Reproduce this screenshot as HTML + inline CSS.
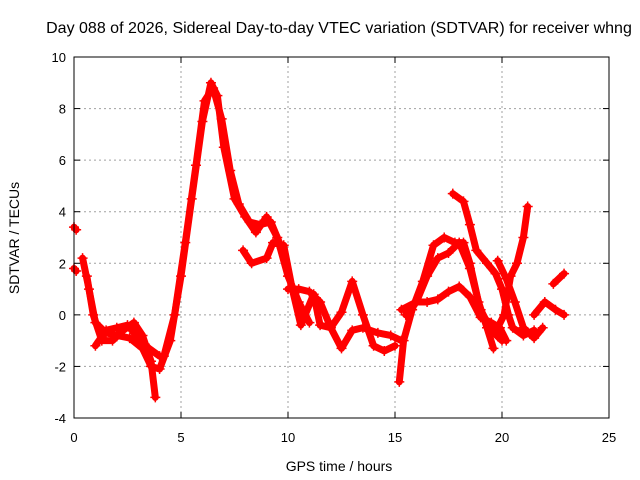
<!DOCTYPE html>
<html><head><meta charset="utf-8"><style>
body{margin:0;background:#fff;}
svg{display:block;font-family:"Liberation Sans",sans-serif;}
</style></head><body>
<svg id="chart" width="640" height="480">
<text x="339" y="33" font-size="16" text-anchor="middle">Day 088 of 2026, Sidereal Day-to-day VTEC variation (SDTVAR) for receiver whng</text>
<text x="339" y="471" font-size="14" text-anchor="middle">GPS time / hours</text>
<text transform="translate(19,238) rotate(-90)" font-size="14" text-anchor="middle">SDTVAR / TECUs</text>
<g id="grid"></g><g id="series"></g><g id="axes"></g>
</svg>
<script>
const xTicks=[0,5,10,15,20,25];
const yTicks=[-4,-2,0,2,4,6,8,10];
const trackA=[[0.4,2.2],[0.7,1],[1,-0.3],[1.5,-0.7],[2,-0.8],[2.6,-0.9],[3.2,-1.3],[3.6,-2],[4,-2.1],[4.5,-1],[5,1.5],[5.5,4.5],[6,7.5],[6.4,9],[6.7,8.5],[7,6.5],[7.5,4.5],[8,3.8],[8.5,3.2],[9,3.8],[9.5,3],[10,1.5],[10.5,0.5],[11,-0.3]];
const trackA2=[[4.2,-1.6],[4.7,0],[5.2,2.8],[5.7,5.8],[6.1,8.3],[6.5,8.8],[6.9,7.6],[7.3,5.6],[7.7,4.3],[8.2,3.6],[8.7,3.5],[9.2,3.6],[9.7,2.6],[10.2,1.0]];
const trackB=[[0.6,1.5],[0.9,0],[1.3,-1],[1.8,-1],[2.3,-0.6],[2.8,-0.3],[3.2,-0.8],[3.6,-1.8],[3.8,-3.2]];
const trackC=[[1,-1.2],[1.5,-0.6],[2,-0.5],[2.5,-0.4],[3,-0.9],[3.5,-1.3],[4,-1.6]];
const trackD=[[7.9,2.5],[8.3,2.0],[9,2.2],[9.3,2.8],[9.8,2.7],[10.2,1],[10.6,-0.4],[11.2,0.8],[11.5,-0.4],[12,-0.5],[12.5,0.1],[13,1.3],[13.5,0],[14,-1.2],[14.5,-1.4],[15,-1.2]];
const trackE=[[10,1],[10.5,1],[11,0.9],[11.5,0.5],[12,-0.5],[12.5,-1.3],[13,-0.6],[13.5,-0.5],[14.2,-0.7],[14.8,-0.8],[15.3,-1]];
const trackF=[[15.2,-2.6],[15.4,-1],[15.8,0.2],[16.3,1.3],[16.8,2.7],[17.3,3],[17.8,2.8],[18.2,2.8],[18.5,2],[18.9,0.5],[19.3,-0.5],[19.6,-1.3]];
const trackG=[[15.3,0.2],[16,0.5],[16.5,0.5],[17,0.6],[17.5,0.9],[18,1.1],[18.5,0.7],[19,-0.1],[19.5,-0.3],[19.9,-0.5],[20.2,-1]];
const trackH=[[15.5,0],[16,0.5],[16.5,1.5],[17,2.2],[17.5,2.4],[18,2.8],[18.5,1.8],[19,0.2],[19.5,-0.6],[20,-1]];
const trackI=[[17.7,4.7],[18.2,4.4],[18.5,3.5],[18.8,2.5],[19.3,2.0],[19.7,1.6],[20,1],[20.3,0],[20.5,-0.5],[21,-0.8],[21.5,-0.6]];
const trackJ=[[19.8,2.1],[20.2,1.4],[20.6,0.5],[21,-0.5],[21.5,-0.9],[21.9,-0.5]];
const trackK=[[19.8,-0.5],[20.1,0],[20.4,1.5],[20.7,2],[21,3],[21.2,4.2]];
const trackL=[[21.5,0],[22,0.5],[22.5,0.2],[22.9,0]];
const trackM=[[22.4,1.2],[22.9,1.6]];
const trackN=[[0,3.4],[0.1,3.3]];
const trackO=[[0,1.8],[0.1,1.7]];
const tracks=[trackA,trackA2,trackB,trackC,trackD,trackE,trackF,trackG,trackH,trackI,trackJ,trackK,trackL,trackM,trackN,trackO];
const X0=74,X1=609,Y0=418,Y1=57;
const xs=v=>X0+(v-0)/25*(X1-X0);
const ys=v=>Y0-(v+4)/14*(Y0-Y1);
const NS="http://www.w3.org/2000/svg";
function mk(t,a,p){const e=document.createElementNS(NS,t);for(const k in a)e.setAttribute(k,a[k]);p.appendChild(e);return e;}
const grid=document.getElementById('grid'),axes=document.getElementById('axes'),ser=document.getElementById('series');
xTicks.forEach(t=>{
 if(t>0&&t<25){const g=mk('line',{x1:xs(t),x2:xs(t),y1:Y0,y2:Y1,stroke:'#a0a0a0','stroke-dasharray':'2,3'},grid);
 
 }
 mk('line',{x1:xs(t),x2:xs(t),y1:Y0,y2:Y0-6,stroke:'#000'},axes);
 mk('line',{x1:xs(t),x2:xs(t),y1:Y1,y2:Y1+6,stroke:'#000'},axes);
 const l=mk('text',{x:xs(t),y:Y0+24,'font-size':13,'text-anchor':'middle'},axes);l.textContent=t;
 
 
});
yTicks.forEach(t=>{
 if(t>-4&&t<10){const g=mk('line',{x1:X0,x2:X1,y1:ys(t),y2:ys(t),stroke:'#a0a0a0','stroke-dasharray':'2,3'},grid);
 
 }
 mk('line',{x1:X0,x2:X0+6,y1:ys(t),y2:ys(t),stroke:'#000'},axes);
 mk('line',{x1:X1,x2:X1-6,y1:ys(t),y2:ys(t),stroke:'#000'},axes);
 const l=mk('text',{x:X0-8,y:ys(t)+5,'font-size':13,'text-anchor':'end'},axes);l.textContent=t;
 
 
});
const fr=mk('rect',{x:X0,y:Y1,width:X1-X0,height:Y0-Y1,fill:'none',stroke:'#000'},axes);


tracks.forEach(tr=>{
 const p=mk('polyline',{points:tr.map(d=>xs(d[0])+','+ys(d[1])).join(' '),fill:'none',stroke:'#ff0000','stroke-width':7,'stroke-linejoin':'round','stroke-linecap':'round'},ser);
 
 
 tr.forEach(d=>{
  const m=mk('path',{d:`M${xs(d[0])-5},${ys(d[1])}h10M${xs(d[0])},${ys(d[1])-5}v10`,stroke:'#ff0000','stroke-width':1.5},ser);
  
  
 });
});
</script>
</body></html>
